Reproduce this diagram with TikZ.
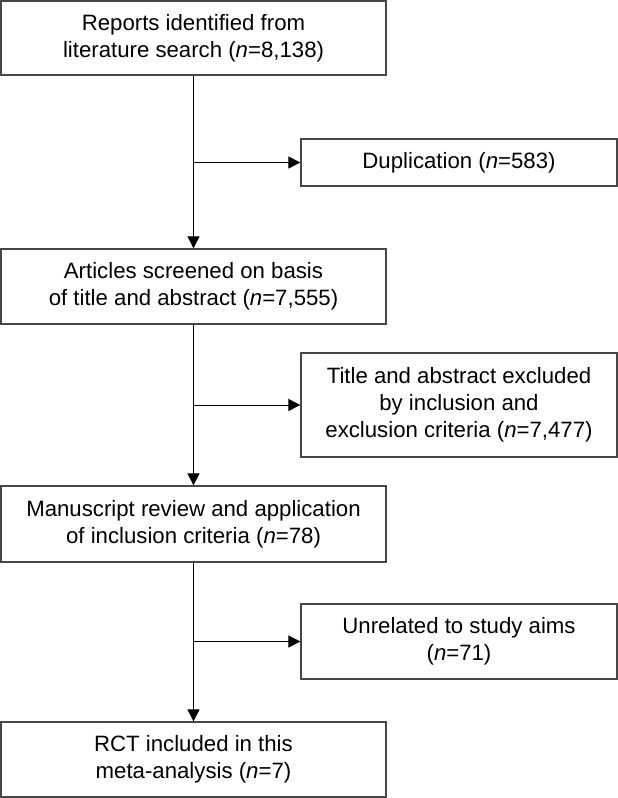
\documentclass[tikz,border=0pt]{standalone}
\usepackage{fontspec}
\setmainfont{Liberation Sans}
\usetikzlibrary{arrows.meta}
\begin{document}
\begin{tikzpicture}[x=1pt,y=-1pt,
  box/.style={draw=black!72, line width=1.3pt, align=center, inner sep=0pt,
    font=\fontsize{22.2}{27}\selectfont},
  leftbox/.style={box, minimum width=385pt},
  rightbox/.style={box, minimum width=316pt},
  conn/.style={line width=0.9pt, draw=black, -{Triangle[length=12pt,width=12pt]}}]
\useasboundingbox (0,0) rectangle (618,798);
\node[leftbox, minimum height=74pt] (b1) at (193.5,38)
  {Reports identified from\\literature search (\textit{n}=8,138)};
\node[rightbox, minimum height=47pt] (dup) at (459,162.5)
  {Duplication (\textit{n}=583)};
\node[leftbox, minimum height=75pt] (b2) at (193.5,286.5)
  {Articles screened on basis\\of title and abstract (\textit{n}=7,555)};
\node[rightbox, minimum height=104pt] (excl) at (459,405)
  {Title and abstract excluded\\by inclusion and\\exclusion criteria (\textit{n}=7,477)};
\node[leftbox, minimum height=76pt] (b3) at (193.5,524)
  {Manuscript review and application\\of inclusion criteria (\textit{n}=78)};
\node[rightbox, minimum height=75pt] (unrel) at (459,641.5)
  {Unrelated to study aims\\(\textit{n}=71)};
\node[leftbox, minimum height=75pt] (b4) at (193.5,759.5)
  {RCT included in this\\meta-analysis (\textit{n}=7)};
\draw[conn] (b1.south) -- (b2.north);
\draw[conn] (b2.south) -- (b3.north);
\draw[conn] (b3.south) -- (b4.north);
\draw[conn] (b1.south |- dup.west) -- (dup.west);
\draw[conn] (b2.south |- excl.west) -- (excl.west);
\draw[conn] (b3.south |- unrel.west) -- (unrel.west);
\end{tikzpicture}
\end{document}
